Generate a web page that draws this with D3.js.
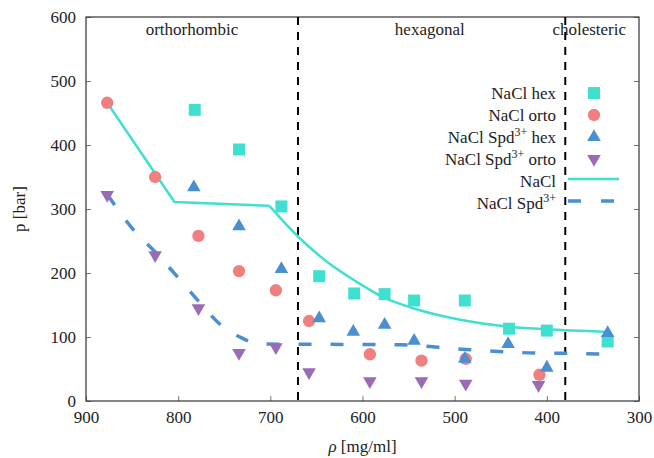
<!DOCTYPE html>
<html>
<head>
<meta charset="utf-8">
<script src="https://cdn.jsdelivr.net/npm/d3@7"></script>
<style>
body { margin: 0; background: #fff; }
</style>
</head>
<body>
<svg width="654" height="458"></svg>
<script>
// data
const hexNaCl = [[782,455],[734,393],[688,304],[647,195],[609,168],[576,167],[544,157],[489,157],[441,113],[400,110],[334,93]];
const ortoNaCl = [[877,466],[825,350],[778,258],[734,203],[694,173],[658,125],[592,73],[536,63],[488,66],[408,41]];
const hexSpd = [[783,334],[734,273],[688,206],[647,129],[610,108],[576,119],[544,94],[489,66],[442,89],[400,52],[334,106]];
const ortoSpd = [[877,322],[825,228],[778,145],[734,75],[694,84],[658,45],[592,31],[536,31],[488,27],[409,25]];
// NaCl fit: straight segments up to 701, smooth decay after
const lineNaClA = [[877,466],[804,311],[701,305]];
const lineNaClB = [[701,305],[670,257],[639,218],[606,186],[576,161],[545,145],[494,127],[442,116],[400,112],[334,108]];
const lineSpd = [[877,323],[850,270],[825,233],[776,153],[757,123],[733,100],[711,89],[559,88],[518,84],[483,80],[448,77],[413,75],[377,74.5],[334,73]];
const phaseBounds = [670, 380];
const phaseLabels = [["orthorhombic", 785], ["hexagonal", 527], ["cholesteric", 354]];
const xTicks = [900, 800, 700, 600, 500, 400, 300];
const yTicks = [0, 100, 200, 300, 400, 500, 600];

const svg = d3.select("svg");
const W = 654, H = 458;
const m = {left: 86, right: 15, top: 17, bottom: 57};
const font = "'Liberation Serif', 'DejaVu Serif', 'Times New Roman', Tinos, 'Noto Serif', serif";

const x = d3.scaleLinear().domain([900, 300]).range([m.left, W - m.right]);
const y = d3.scaleLinear().domain([0, 600]).range([H - m.bottom, m.top]);

const cTurq = "#40e0d0", cCoral = "#f08080", cBlue = "#4a8fd2", cPurple = "#9a6cb5";
const fs = "17px";

// axes
const xAxis = svg.append("g").attr("transform", `translate(0,${H - m.bottom})`)
	.call(d3.axisBottom(x).tickValues(xTicks).tickSize(-5).tickPadding(10));
const yAxis = svg.append("g").attr("transform", `translate(${m.left},0)`)
	.call(d3.axisLeft(y).tickValues(yTicks).tickSize(-5).tickPadding(10));
const yAxisR = svg.append("g").attr("transform", `translate(${W - m.right},0)`)
	.call(d3.axisRight(y).tickValues(yTicks).tickSize(-5).tickFormat(""));
[xAxis, yAxis, yAxisR].forEach(a => {
	a.attr("font-family", font);
	a.select(".domain").remove();
	a.selectAll(".tick line").attr("stroke", "#777");
	a.selectAll("text").style("font-size", fs).style("font-family", font).attr("fill", "#222");
});
svg.append("rect")
	.attr("x", m.left).attr("y", m.top)
	.attr("width", W - m.left - m.right).attr("height", H - m.top - m.bottom)
	.attr("fill", "none").attr("stroke", "#333").attr("stroke-width", 1.2);

// phase boundaries
svg.selectAll("line.bound").data(phaseBounds).enter().append("line")
	.attr("class", "bound")
	.attr("x1", d => x(d)).attr("x2", d => x(d))
	.attr("y1", y(600)).attr("y2", y(0))
	.attr("stroke", "#000").attr("stroke-width", 2).attr("stroke-dasharray", "8,7");

svg.selectAll("text.phase").data(phaseLabels).enter().append("text")
	.attr("class", "phase")
	.attr("x", d => x(d[1])).attr("y", 35)
	.attr("text-anchor", "middle").style("font-size", fs).style("font-family", font).attr("fill", "#222")
	.text(d => d[0]);

// fit lines
const line = d3.line().x(d => x(d[0])).y(d => y(d[1]));
const smooth = d3.line().x(d => x(d[0])).y(d => y(d[1])).curve(d3.curveMonotoneX);
svg.append("path").datum(lineNaClA).attr("d", line)
	.attr("fill", "none").attr("stroke", cTurq).attr("stroke-width", 2.5).attr("stroke-linejoin", "round");
svg.append("path").datum(lineNaClB).attr("d", smooth)
	.attr("fill", "none").attr("stroke", cTurq).attr("stroke-width", 2.5);
svg.append("path").datum(lineSpd).attr("d", smooth)
	.attr("fill", "none").attr("stroke", cBlue).attr("stroke-width", 3.5)
	.attr("stroke-dasharray", "13,19");

// markers
const sym = {
	square: d3.symbol().type(d3.symbolSquare).size(144),
	circle: d3.symbol().type(d3.symbolCircle).size(120),
	tri: d3.symbol().type(d3.symbolTriangle).size(80)
};
function markers(data, gen, color, flip) {
	svg.append("g").selectAll("path").data(data).enter().append("path")
		.attr("d", gen)
		.attr("transform", d => `translate(${x(d[0])},${y(d[1])})` + (flip ? " rotate(180)" : ""))
		.attr("fill", color);
}
markers(hexNaCl, sym.square, cTurq, false);
markers(ortoNaCl, sym.circle, cCoral, false);
markers(hexSpd, sym.tri, cBlue, false);
markers(ortoSpd, sym.tri, cPurple, true);

// legend
const leg = svg.append("g");
const legItems = [
	{t: "NaCl hex", k: "square", c: cTurq},
	{t: "NaCl orto", k: "circle", c: cCoral},
	{t: "NaCl Spd", sup: "3+", after: " hex", k: "tri", c: cBlue},
	{t: "NaCl Spd", sup: "3+", after: " orto", k: "trid", c: cPurple},
	{t: "NaCl", k: "line", c: cTurq},
	{t: "NaCl Spd", sup: "3+", k: "dash", c: cBlue}
];
legItems.forEach((d, i) => {
	const yy = 93 + i * 22;
	const tx = leg.append("text").attr("x", 556).attr("y", yy + 6)
		.attr("text-anchor", "end").style("font-size", fs).style("font-family", font).attr("fill", "#222");
	tx.append("tspan").text(d.t);
	if (d.sup) tx.append("tspan").attr("dy", -7).style("font-size", "12px").text(d.sup);
	if (d.after) tx.append("tspan").attr("dy", 7).text(d.after);
	if (d.k === "line" || d.k === "dash") {
		leg.append("line").attr("x1", 568).attr("x2", d.k === "line" ? 619 : 614)
			.attr("y1", yy - 2).attr("y2", yy - 2)
			.attr("stroke", d.c).attr("stroke-width", d.k === "line" ? 2.5 : 3.5)
			.attr("stroke-dasharray", d.k === "dash" ? "13,20" : null);
	} else {
		const gen = d.k === "square" ? sym.square : d.k === "circle" ? sym.circle : sym.tri;
		leg.append("path").attr("d", gen)
			.attr("transform", `translate(594,${yy})` + (d.k === "trid" ? " rotate(180)" : ""))
			.attr("fill", d.c);
	}
});

// axis titles
const xl = svg.append("text").attr("x", x(600)).attr("y", 452)
	.attr("text-anchor", "middle").style("font-size", fs).style("font-family", font).attr("fill", "#222");
xl.append("tspan").style("font-style", "italic").text("ρ");
xl.append("tspan").text(" [mg/ml]");
svg.append("text").attr("transform", `translate(25,${y(300)}) rotate(-90)`)
	.attr("text-anchor", "middle").style("font-size", fs).style("font-family", font).attr("fill", "#222")
	.text("p [bar]");
</script>
</body>
</html>
